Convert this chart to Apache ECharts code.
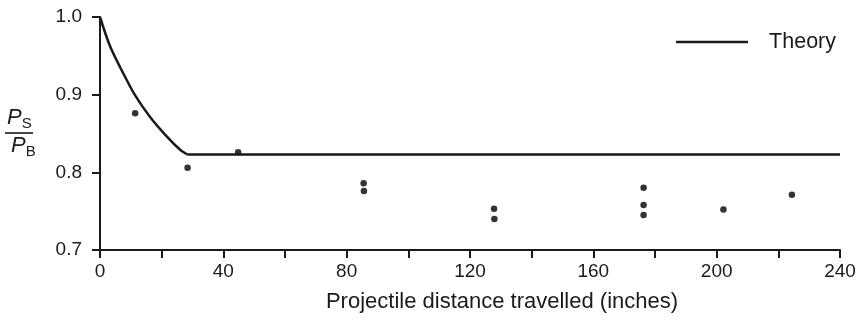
<!DOCTYPE html>
<html>
<head>
<meta charset="utf-8">
<script src="https://cdn.jsdelivr.net/npm/echarts@6/dist/echarts.min.js"></script>
<style>html,body{margin:0;padding:0;background:#fff}#c{width:864px;height:322px}</style>
</head>
<body>
<div id="c"></div>
<script>
// Theory curve (x in inches, y = Ps/Pb): decaying part and plateau
const theoryCurveX = [0, 3.3, 7.6, 11.4, 16.3, 21.7, 26.0, 28.3];
const theoryCurveY = [1.0, 0.962, 0.927, 0.899, 0.871, 0.846, 0.829, 0.823];
const theoryFlatX = [28.3, 240];
const theoryFlatY = [0.823, 0.823];
// Measured points
const measX = [11.4, 28.4, 44.8, 85.5, 85.6, 127.8, 127.9, 176.3, 176.3, 176.3, 202.2, 224.4];
const measY = [0.876, 0.806, 0.826, 0.786, 0.776, 0.753, 0.740, 0.780, 0.758, 0.745, 0.752, 0.771];
const xTicks = [0, 40, 80, 120, 160, 200, 240];
const yTicks = [0.7, 0.8, 0.9, 1.0];

const font = 'Liberation Sans, Arial, Helvetica, sans-serif';
const ink = '#1a1a1a';
const chart = echarts.init(document.getElementById('c'));
chart.setOption({
  animation: false,
  backgroundColor: '#fff',
  textStyle: {fontFamily: font, color: ink},
  grid: {left: 100, right: 24, top: 17, bottom: 72},
  legend: {
    right: 23, top: 26,
    data: [{name: 'Theory', icon: 'rect'}],
    itemWidth: 72, itemHeight: 2.5,
    textStyle: {fontFamily: font, fontSize: 21.5, color: ink, padding: [0, 0, 0, 16]}
  },
  xAxis: {
    type: 'value', min: 0, max: 240, interval: 20,
    name: 'Projectile distance travelled (inches)',
    nameLocation: 'middle', nameGap: 41,
    nameTextStyle: {fontFamily: font, fontSize: 22, color: ink, padding: [0, 0, 0, 64]},
    axisLine: {lineStyle: {color: ink, width: 2}},
    axisTick: {length: 8, lineStyle: {color: ink, width: 2}},
    splitLine: {show: false},
    axisLabel: {
      margin: 12, fontSize: 19, color: ink, fontFamily: font,
      formatter: v => xTicks.indexOf(v) >= 0 ? String(v) : ''
    }
  },
  yAxis: {
    type: 'value', min: 0.7, max: 1.0, interval: 0.1,
    axisLine: {show: true, lineStyle: {color: ink, width: 2}},
    axisTick: {show: true, length: 8, lineStyle: {color: ink, width: 2}},
    splitLine: {show: false},
    axisLabel: {
      margin: 18, fontSize: 19, color: ink, fontFamily: font,
      formatter: v => {
        const t = yTicks.find(k => Math.abs(k - v) < 1e-6);
        return t !== undefined ? t.toFixed(1) : '';
      }
    }
  },
  graphic: [
    {type: 'text', left: 7, top: 107, style: {
      text: '{i|P}{s|S}', rich: {
        i: {fontFamily: font, fontStyle: 'italic', fontSize: 22, fill: ink},
        s: {fontFamily: font, fontSize: 15, fill: ink, padding: [12, 0, 0, 0]}
      }}},
    {type: 'line', shape: {x1: 5, y1: 133, x2: 33, y2: 133}, style: {stroke: ink, lineWidth: 1.6}},
    {type: 'text', left: 11, top: 135, style: {
      text: '{i|P}{s|B}', rich: {
        i: {fontFamily: font, fontStyle: 'italic', fontSize: 22, fill: ink},
        s: {fontFamily: font, fontSize: 15, fill: ink, padding: [12, 0, 0, 0]}
      }}}
  ],
  series: [
    {
      name: 'Theory', type: 'line', showSymbol: false, symbol: 'none',
      smooth: 0.3,
      lineStyle: {color: ink, width: 2.5}, itemStyle: {color: ink},
      data: theoryCurveX.map((x, i) => [x, theoryCurveY[i]])
    },
    {
      name: 'Theory', type: 'line', showSymbol: false, symbol: 'none',
      lineStyle: {color: ink, width: 2.5}, itemStyle: {color: ink},
      data: theoryFlatX.map((x, i) => [x, theoryFlatY[i]])
    },
    {
      name: 'Measured', type: 'scatter', symbol: 'circle', symbolSize: 6.5,
      itemStyle: {color: '#000'},
      data: measX.map((x, i) => [x, measY[i]])
    }
  ]
});
</script>
</body>
</html>
